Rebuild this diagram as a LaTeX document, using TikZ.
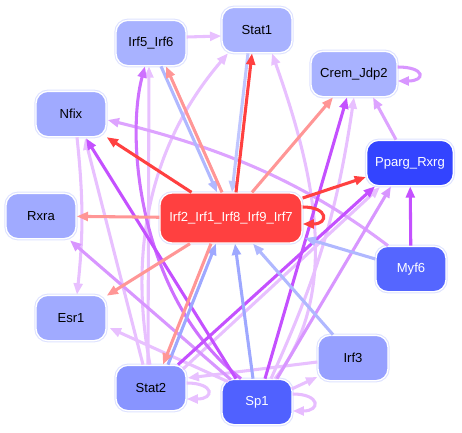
\documentclass[tikz,border=0pt]{standalone}
\usepackage{fontspec}
\setmainfont{Liberation Sans}
\usetikzlibrary{%
  arrows.meta,% Triangle tips
  calc%
}

% node fills
\definecolor{fLight}{RGB}{168,178,255}
\definecolor{fMid}{RGB}{160,170,255}
\definecolor{fIrfthree}{RGB}{150,160,255}
\definecolor{fStattwo}{RGB}{136,148,255}
\definecolor{fMyf}{RGB}{85,102,255}
\definecolor{fSp}{RGB}{80,97,255}
\definecolor{fPparg}{RGB}{51,68,255}
\definecolor{fIrf}{RGB}{255,64,64}
\definecolor{ring}{RGB}{222,226,255}
% edge colours
\definecolor{eRed}{RGB}{255,64,64}
\definecolor{eSalmon}{RGB}{255,150,150}
\definecolor{eBlue}{RGB}{158,168,255}
\definecolor{eLblue}{RGB}{176,184,255}
\definecolor{ePurple}{RGB}{196,80,255}
\definecolor{ePurpleB}{RGB}{206,112,255}
\definecolor{eMid}{RGB}{216,150,255}
\definecolor{eLight}{RGB}{232,192,255}

\begin{document}
\begin{tikzpicture}[
  x=0.75pt, y=-0.75pt,
  font=\fontsize{9.8}{11}\selectfont,
  >={Triangle[length=8.5pt,width=6.6pt]},
  line width=2.2pt,
  gene/.style={rounded corners=9pt, minimum width=52.5pt, minimum height=34pt,
    inner sep=0pt, preaction={draw=ring, line width=2.6pt}, draw=white, line width=1pt},
  dark/.style={gene, text=white},
  link/.style={->, line width=2.3pt}
]
\useasboundingbox (0,0) rectangle (462,433);

% genes
\node[gene, fill=fLight] (stat1) at (257,30) {Stat1};
\node[gene, fill=fLight] (irf56) at (151,43) {Irf5\_Irf6};
\node[gene, fill=fLight, minimum width=64.5pt] (crem) at (354,74) {Crem\_Jdp2};
\node[gene, fill=fMid] (nfix) at (71,114) {Nfix};
\node[dark, fill=fPparg, minimum width=65pt] (pparg) at (410,163) {Pparg\_Rxrg};
\node[dark, fill=fIrf, minimum width=106.5pt, minimum height=37.5pt] (irf2) at (231,218) {Irf2\_Irf1\_Irf8\_Irf9\_Irf7};
\node[gene, fill=fMid] (rxra) at (41,216) {Rxra};
\node[dark, fill=fMyf] (myf6) at (411,269) {Myf6};
\node[gene, fill=fMid] (esr1) at (71,318) {Esr1};
\node[gene, fill=fIrfthree] (irf3) at (353,358) {Irf3};
\node[gene, fill=fStattwo] (stat2) at (151,388) {Stat2};
\node[dark, fill=fSp] (sp1) at (257,402) {Sp1};

% light edges first
\draw[link, eLight] ([shift={(0,-6)}]irf56.east) -- ([shift={(0,6)}]stat1.west);
\draw[link, eLight] ([shift={(6,0)}]nfix.south) to[bend left=6] ([shift={(6,0)}]esr1.north);
\draw[link, eLight] ([shift={(-8,0)}]stat2.north) -- ([shift={(14,1)}]nfix.south);
\draw[link, eLight] ([shift={(-3,0)}]stat2.north) -- ([shift={(-2,0)}]irf56.south);
\draw[link, eLight] ([shift={(-1,0)}]stat2.north) .. controls (130,260) and (145,150) .. ([shift={(-29,0)}]stat1.south);
\draw[link, eLight] ([shift={(18,0)}]sp1.north) .. controls (345,290) and (310,160) .. ([shift={(15,0)}]stat1.south);
\draw[link, eLight] ([shift={(14,0)}]sp1.north) to[bend right=8] (crem.south);
\draw[link, eLight] ([shift={(-29,3)}]sp1.north) -- ([shift={(3,10)}]esr1.east);
\draw[link, eLight] ([shift={(0,4)}]irf3.west) -- ([shift={(1,-10)}]stat2.east);
\draw[link, eLight] ([shift={(-1,-13)}]sp1.east) -- ([shift={(0,19)}]irf3.west);
\draw[link, eLight] (183,369) -- (380,187);
\draw[link, eLight] ([shift={(0,-5)}]stat2.east) .. controls +(28,0) and +(28,0) .. ([shift={(0,11)}]stat2.east);
\draw[link, eLight!90!eMid] ([shift={(0,-8)}]sp1.east) .. controls +(28,0) and +(28,0) .. ([shift={(0,9)}]sp1.east);
\draw[link, eMid!70!eLight] ([shift={(-23,0)}]myf6.north) .. controls (308,185) and (227,149) .. ([shift={(1,6)}]nfix.east);
\draw[link, eMid!70!eLight] ([shift={(-14,0)}]pparg.north) -- ([shift={(19,0)}]crem.south);
\draw[link, eMid] ([shift={(0,-7)}]crem.east) .. controls +(28,0) and +(28,0) .. ([shift={(0,7)}]crem.east);
\draw[link, eMid] ([shift={(-26,1)}]sp1.north) -- ([shift={(29,1)}]rxra.south);
\draw[link, eMid] ([shift={(20,0)}]sp1.north) -- ([shift={(-19,0)}]pparg.south);

% strong purple
\draw[link, ePurpleB] ([shift={(-16,0)}]sp1.north) .. controls (140,300) and (125,140) .. ([shift={(-6,0)}]irf56.south);
\draw[link, ePurple] ([shift={(-21,0)}]sp1.north) -- ([shift={(15,1)}]nfix.south);
\draw[link, ePurple] ([shift={(8,0)}]sp1.north) -- ([shift={(-7,0)}]crem.south);
\draw[link, ePurple] ([shift={(27,0)}]stat2.north) -- ([shift={(-35,0)}]pparg.south);
\draw[link, ePurple] (myf6) -- (pparg);

% blue
\draw[link, eBlue] ([shift={(-4,0)}]sp1.north) -- ([shift={(4,0)}]irf2.south);
\draw[link, eLblue] ([shift={(-20,0)}]irf3.north) -- ([shift={(22,0)}]irf2.south);
\draw[link, eLblue] ([shift={(0,-10)}]myf6.west) -- ([shift={(2,20)}]irf2.east);
\draw[link, eBlue] ([shift={(17,0)}]stat2.north) -- ([shift={(-15,0)}]irf2.south);
\draw[link, eLblue] ([shift={(10,0)}]irf56.south) -- ([shift={(-14,0)}]irf2.north);
\draw[link, eLblue!80!white] ([shift={(-9,0)}]stat1.south) -- ([shift={(1,0)}]irf2.north);

% red
\draw[link, eSalmon] ([shift={(-20,0)}]irf2.south) -- ([shift={(12,0)}]stat2.north);
\draw[link, eSalmon] (irf2) -- (esr1);
\draw[link, eSalmon] (irf2) -- (rxra);
\draw[link, eSalmon] ([shift={(-9,0)}]irf2.north) -- ([shift={(15,0)}]irf56.south);
\draw[link, eSalmon] ([shift={(21,0)}]irf2.north) -- ([shift={(-21,0)}]crem.south);
\draw[link, eRed] (irf2) -- (nfix);
\draw[link, eRed] ([shift={(5,0)}]irf2.north) -- ([shift={(-5,0)}]stat1.south);
\draw[link, eRed] ([shift={(0,-20)}]irf2.east) -- ([shift={(0,14)}]pparg.west);
\draw[link, eRed] ([shift={(0,-11)}]irf2.east) .. controls +(26,0) and +(26,0) .. ([shift={(0,6)}]irf2.east);

\end{tikzpicture}
\end{document}
